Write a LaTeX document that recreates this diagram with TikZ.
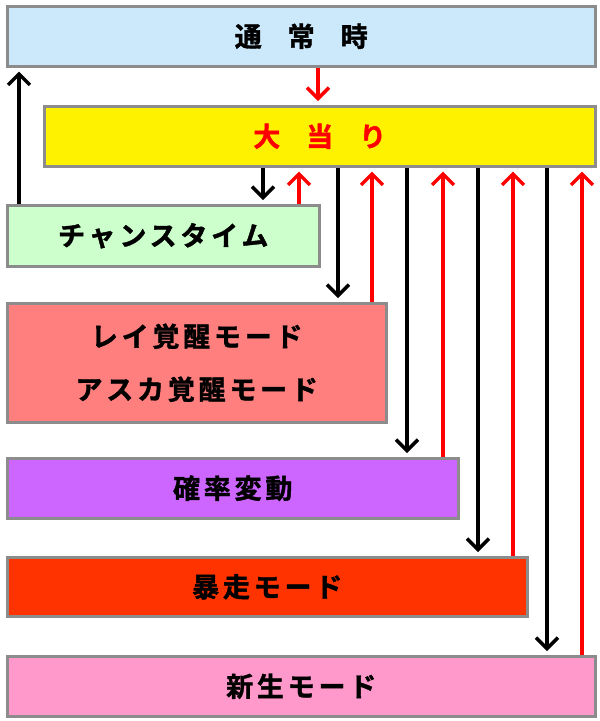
\documentclass[tikz,border=0pt]{standalone}
\usepackage{fontspec}
\usepackage{tikz}
\usetikzlibrary{arrows.meta}
\newfontfamily\jpfont[LetterSpace=14,FakeBold=1.5]{Noto Sans CJK JP Bold}
\newfontfamily\jpwide[FakeBold=1.5]{Noto Sans CJK JP Bold}
\newcommand{\gap}{\hspace{26pt}}
\definecolor{normalblue}{HTML}{CCE9FB}
\definecolor{chancegreen}{HTML}{CCFFCC}
\definecolor{awakered}{HTML}{FF7F7F}
\definecolor{kakuhenviolet}{HTML}{CC66FF}
\definecolor{bousored}{HTML}{FF3300}
\definecolor{shinseipink}{HTML}{FF99CC}
\definecolor{boxgray}{HTML}{8C8C8C}

\begin{document}
\begin{tikzpicture}[x=1pt,y=1pt]
\tikzstyle{box}=[draw=boxgray,line width=2.5pt,anchor=north west,inner sep=0pt,
  font=\fontsize{27}{53}\selectfont\jpfont,align=center]
\tikzstyle{down}=[line width=3.5pt,-{Straight Barb[length=11pt,width=22pt]},shorten >=4pt]
\tikzstyle{up}=[down,red]
\useasboundingbox (0,0) rectangle (600,-721);
\fill[white] (0,0) rectangle (600,-721);
\node[box,fill=normalblue,minimum width=588,minimum height=60] (normal) at (6,-5) {\jpwide 通\gap 常\gap 時};
\node[box,fill=yellow,text=red,minimum width=551,minimum height=60] (jackpot) at (43,-105) {\jpwide 大\gap 当\gap り};
\node[box,fill=chancegreen,minimum width=312,minimum height=61] (chance) at (6,-204) {チャンスタイム};
\node[box,fill=awakered,minimum width=379,minimum height=119] (awake) at (6,-302) {レイ覚醒モード\\アスカ覚醒モード};
\node[box,fill=kakuhenviolet,minimum width=451,minimum height=60] (kakuhen) at (6,-457) {確率変動};
\node[box,fill=bousored,minimum width=520,minimum height=59] (bouso) at (6,-556) {暴走モード};
\node[box,fill=shinseipink,minimum width=588,minimum height=60] (shinsei) at (6,-655) {新生モード};
% back to normal / into jackpot
\draw[up] (318,0 |- normal.south) -- (318,0 |- jackpot.north);
\draw[down] (19,0 |- chance.north) -- (19,0 |- normal.south);
\foreach \mode/\xd/\xu in {chance/263/299,awake/338/372,kakuhen/407/443,bouso/478/513,shinsei/547/582}{
  \draw[down] (\xd,0 |- jackpot.south) -- (\xd,0 |- \mode.north);
  \draw[up] (\xu,0 |- \mode.north) -- (\xu,0 |- jackpot.south);
}
\end{tikzpicture}
\end{document}
